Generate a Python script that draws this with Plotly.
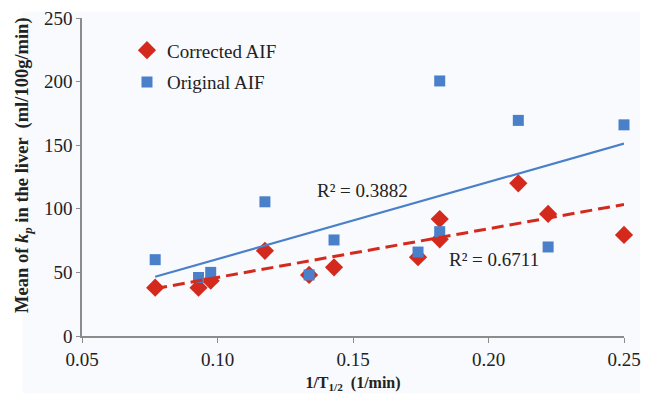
import numpy as np
import plotly.graph_objects as go

# Data
inv_t_half = [0.077, 0.093, 0.0975, 0.1175, 0.1338, 0.143, 0.174, 0.182, 0.182, 0.211, 0.222, 0.25]
kp_corrected = [38, 38, 43.5, 67, 48, 54, 62, 92, 76, 120, 96, 79.5]
kp_original = [60, 46, 50, 105.5, 48, 75.5, 66, 82, 200.5, 169.5, 70, 166]
r2_original = "R² = 0.3882"
r2_corrected = "R² = 0.6711"
x_ticks = [0.05, 0.10, 0.15, 0.20, 0.25]
y_ticks = [0, 50, 100, 150, 200, 250]

RED = "#d42a1e"
BLUE = "#4a7fc9"
FONT = "Liberation Serif"

x = np.array(inv_t_half)
xs = np.array([x.min(), x.max()])
b_o = np.polyfit(x, np.array(kp_original), 1)
b_c = np.polyfit(x, np.array(kp_corrected), 1)

fig = go.Figure()
fig.add_trace(go.Scatter(x=inv_t_half, y=kp_corrected, mode="markers", name="Corrected AIF",
                         legendgroup="c",
                         marker=dict(symbol="diamond", size=14, color=RED), cliponaxis=False))
fig.add_trace(go.Scatter(x=inv_t_half, y=kp_original, mode="markers", name="Original AIF",
                         legendgroup="o",
                         marker=dict(symbol="square", size=11, color=BLUE), cliponaxis=False))
fig.add_trace(go.Scatter(x=xs, y=np.polyval(b_o, xs), mode="lines", showlegend=False,
                         line=dict(color=BLUE, width=2.2), hoverinfo="skip"))
fig.add_trace(go.Scatter(x=xs, y=np.polyval(b_c, xs), mode="lines", showlegend=False,
                         line=dict(color=RED, width=3, dash="12px,6px"), hoverinfo="skip"))

fig.add_annotation(x=0.1358, y=114, xref="x", yref="y", text=r2_original, showarrow=False,
                   xanchor="left", font=dict(family=FONT, size=19, color="#222"))
fig.add_annotation(x=0.1848, y=60.5, xref="x", yref="y", text=r2_corrected, showarrow=False,
                   xanchor="left", font=dict(family=FONT, size=19, color="#222"))

# y-axis title as a rotated annotation for precise placement
fig.add_annotation(x=-0.107, y=0.535, xref="paper", yref="paper", textangle=-90,
                   text="<b>Mean of <i>k<sub>p</sub></i> in the liver  (ml/100g/min)</b>",
                   showarrow=False, xanchor="center", yanchor="middle",
                   font=dict(family=FONT, size=18.5, color="#222"))

fig.add_shape(type="rect", xref="paper", yref="paper", x0=-0.11, x1=1.03, y0=-0.2, y1=1.02,
              fillcolor="#f9fafd", line=dict(width=0), layer="below")

fig.update_layout(
    width=644, height=385,
    margin=dict(l=74, r=28, t=10, b=57, autoexpand=False),
    paper_bgcolor="white", plot_bgcolor="rgba(0,0,0,0)",
    font=dict(family=FONT, size=18, color="#222"),
    showlegend=True,
    legend=dict(x=0.083, y=0.958, xanchor="left", yanchor="top", bgcolor="rgba(0,0,0,0)",
                font=dict(family=FONT, size=19, color="#222"), tracegroupgap=4),
    xaxis=dict(range=[0.05, 0.25], tickvals=x_ticks, ticktext=[f"{v:.2f}" for v in x_ticks],
               showgrid=False, zeroline=False, showline=True, linecolor="#8c8c8c", linewidth=1.5,
               ticks="outside", ticklen=5, tickcolor="#8c8c8c", automargin=False,
               ticklabeloverflow="allow",
               tickfont=dict(family=FONT, size=19, color="#222"),
               title=dict(text="<b>1/T<sub>1/2</sub>  (1/min)</b>", font=dict(family=FONT, size=16, color="#222"),
                          standoff=9)),
    yaxis=dict(range=[0, 250], tickvals=y_ticks, showgrid=False, zeroline=False,
               showline=True, linecolor="#8c8c8c", linewidth=1.5,
               ticks="outside", ticklen=4, tickcolor="#8c8c8c", automargin=False,
               ticklabeloverflow="allow",
               tickfont=dict(family=FONT, size=19, color="#222")),
)

fig.write_html("out.html")
